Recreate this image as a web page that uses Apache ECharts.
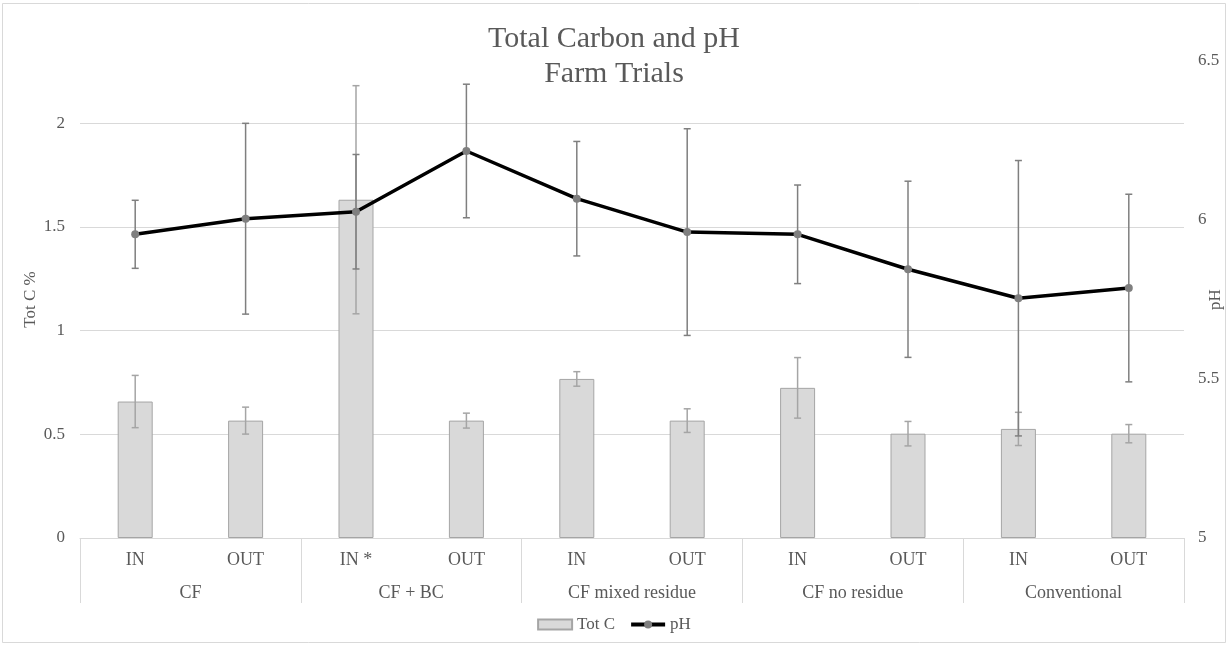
<!DOCTYPE html>
<html>
<head>
<meta charset="utf-8">
<script src="https://cdn.jsdelivr.net/npm/echarts@6/dist/echarts.min.js"></script>
<style>
html,body{margin:0;padding:0;background:#fff;}
#c{width:1228px;height:646px;}
</style>
</head>
<body>
<div id="c"></div>
<script>
const subCategories = ['IN','OUT','IN *','OUT','IN','OUT','IN','OUT','IN','OUT'];
const groupCategories = ['CF','CF + BC','CF mixed residue','CF no residue','Conventional'];
const totC = [0.658, 0.566, 1.631, 0.566, 0.767, 0.566, 0.724, 0.503, 0.526, 0.503];
const totCErr = [0.126, 0.065, 0.55, 0.036, 0.035, 0.057, 0.146, 0.059, 0.08, 0.044];
const pH = [5.955, 6.004, 6.026, 6.217, 6.067, 5.962, 5.955, 5.845, 5.754, 5.786];
const pHErr = [0.107, 0.30, 0.18, 0.21, 0.18, 0.325, 0.155, 0.277, 0.433, 0.295];
const leftTicks = [0, 0.5, 1, 1.5, 2];
const rightTicks = [5, 5.5, 6, 6.5];

const FONT = "'Liberation Serif', 'Times New Roman', serif";
const TXT = '#595959';

function errorRender(values, errs, color) {
  return function (params, api) {
    const i = api.value(0);
    const v = values[i], e = errs[i];
    const top = api.coord([i, v + e]);
    const bot = api.coord([i, v - e]);
    const hw = 3.5;
    const style = {stroke: color, lineWidth: 1.5};
    return {
      type: 'group',
      children: [
        {type: 'line', shape: {x1: top[0], y1: top[1], x2: bot[0], y2: bot[1]}, style: style},
        {type: 'line', shape: {x1: top[0]-hw, y1: top[1], x2: top[0]+hw, y2: top[1]}, style: style},
        {type: 'line', shape: {x1: bot[0]-hw, y1: bot[1], x2: bot[0]+hw, y2: bot[1]}, style: style}
      ]
    };
  };
}

const chart = echarts.init(document.getElementById('c'), null, {renderer: 'canvas'});
chart.setOption({
  animation: false,
  backgroundColor: '#fff',
  textStyle: {fontFamily: FONT},
  graphic: [{
    type: 'rect', shape: {x: 2.5, y: 3.5, width: 1223, height: 639},
    style: {fill: 'none', stroke: '#d9d9d9', lineWidth: 1}, silent: true
  }],
  title: {
    text: 'Total Carbon and pH\nFarm Trials',
    left: 'center', top: 17,
    textStyle: {fontFamily: FONT, fontSize: 30, fontWeight: 'normal', color: TXT, lineHeight: 35, align: 'center'}
  },
  legend: {
    data: [
      {name: 'Tot C', icon: 'rect'},
      {name: 'pH', lineStyle: {width: 4, color: '#000'}}
    ],
    bottom: 8, left: 'center',
    itemWidth: 34, itemHeight: 10, itemGap: 14,
    textStyle: {fontFamily: FONT, fontSize: 17, color: TXT}
  },
  grid: {left: 80, right: 44, top: 61, bottom: 108, containLabel: false, outerBoundsMode: 'none'},
  xAxis: [{
    type: 'category', data: subCategories, position: 'bottom',
    axisLine: {show: true, lineStyle: {color: '#d9d9d9', width: 1}},
    axisTick: {show: false},
    axisLabel: {fontFamily: FONT, fontSize: 18, color: TXT, margin: 13, interval: 0}
  }, {
    type: 'category', data: groupCategories, position: 'bottom',
    axisLine: {show: false},
    axisTick: {show: true, length: 65, interval: 0, lineStyle: {color: '#d9d9d9', width: 1}},
    axisLabel: {fontFamily: FONT, fontSize: 18, color: TXT, margin: 46, interval: 0},
    splitLine: {show: false}
  }],
  yAxis: [{
    type: 'value', position: 'left', min: 0, max: 2.3, interval: 0.5,
    name: 'Tot C %', nameLocation: 'middle', nameGap: 41, nameRotate: 90, nameMoveOverlap: false,
    nameTextStyle: {fontFamily: FONT, fontSize: 17, color: TXT},
    axisLine: {show: false}, axisTick: {show: false},
    axisLabel: {fontFamily: FONT, fontSize: 17, color: TXT, margin: 15, showMaxLabel: false,
      formatter: v => leftTicks.indexOf(v) >= 0 ? String(v) : ''},
    splitLine: {show: true, lineStyle: {color: ['#d9d9d9','#d9d9d9','#d9d9d9','#d9d9d9','#d9d9d9','rgba(0,0,0,0)'], width: 1}}
  }, {
    type: 'value', position: 'right', min: 5, max: 6.5, interval: 0.5,
    name: 'pH', nameLocation: 'middle', nameGap: 23, nameRotate: 90, nameMoveOverlap: false,
    nameTextStyle: {fontFamily: FONT, fontSize: 17, color: TXT},
    axisLine: {show: false}, axisTick: {show: false},
    axisLabel: {fontFamily: FONT, fontSize: 17, color: TXT, margin: 14,
      formatter: v => rightTicks.indexOf(v) >= 0 ? String(v) : ''},
    splitLine: {show: false}
  }],
  series: [{
    name: 'Tot C', type: 'bar', xAxisIndex: 0, yAxisIndex: 0,
    data: totC, barWidth: 35,
    itemStyle: {color: '#d9d9d9', borderColor: '#a5a5a5', borderWidth: 1},
    z: 2
  }, {
    name: 'totCErr', type: 'custom', xAxisIndex: 0, yAxisIndex: 0,
    data: totC.map((v, i) => [i, v]),
    renderItem: errorRender(totC, totCErr, '#a5a5a5'),
    z: 3, silent: true
  }, {
    name: 'pHErr', type: 'custom', xAxisIndex: 0, yAxisIndex: 1,
    data: pH.map((v, i) => [i, v]),
    renderItem: errorRender(pH, pHErr, '#7f7f7f'),
    z: 4, silent: true
  }, {
    name: 'pH', type: 'line', xAxisIndex: 0, yAxisIndex: 1,
    data: pH, symbol: 'circle', symbolSize: 8,
    lineStyle: {color: '#000', width: 3.5},
    itemStyle: {color: '#7f7f7f', borderWidth: 0},
    z: 5
  }]
});
</script>
</body>
</html>
